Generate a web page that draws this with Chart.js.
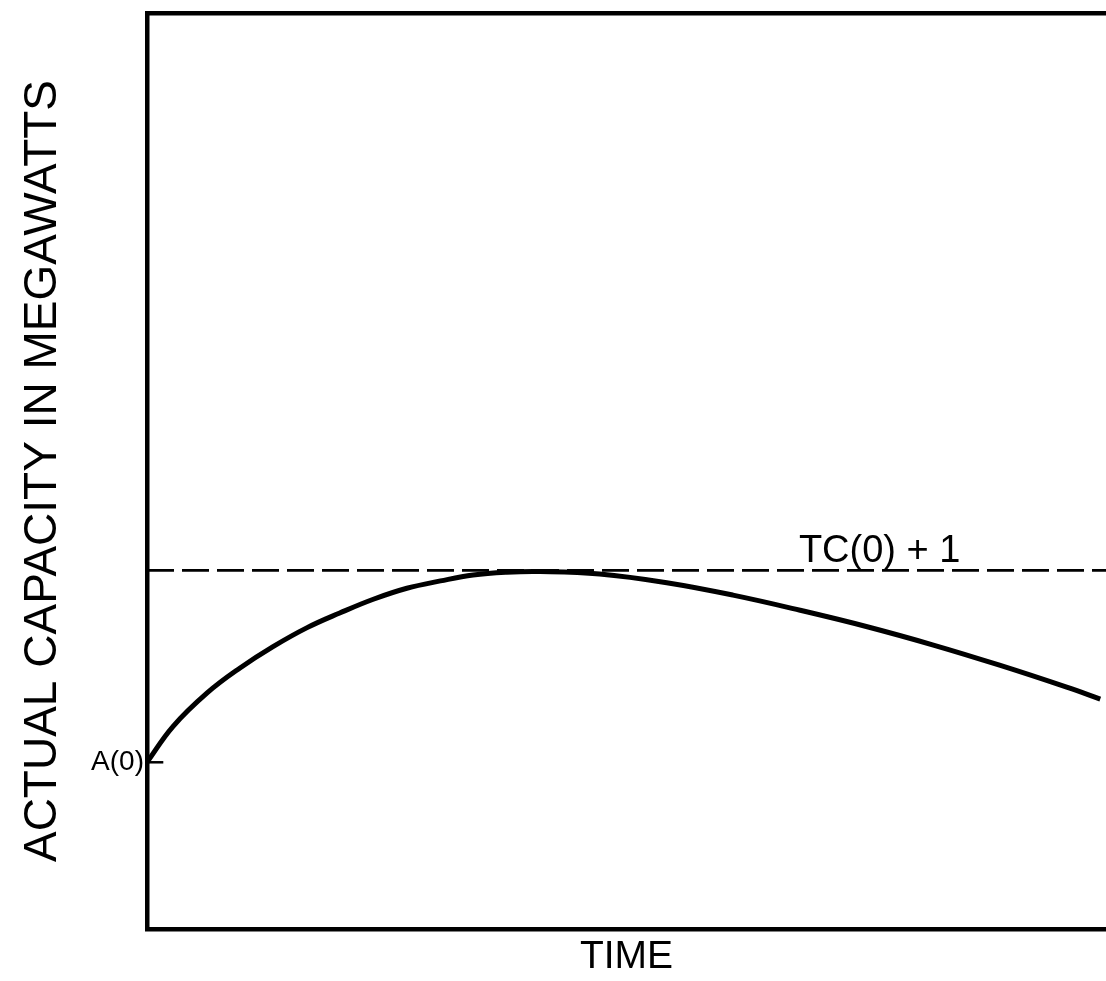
<!DOCTYPE html>
<html>
<head>
<meta charset="utf-8">
<script src="https://cdn.jsdelivr.net/npm/chart.js@4/dist/chart.umd.min.js"></script>
<style>
  html, body { margin: 0; padding: 0; background: #fff; }
  #wrap { width: 1106px; height: 981px; }
</style>
</head>
<body>
<div id="wrap"><canvas id="c" width="1106" height="981"></canvas></div>
<script>
// ---- data (time in % of horizon, capacity in arbitrary units) ----
const timeValues     = [0, 2.7, 6.3, 9.7, 13.1, 16.7, 20.1, 23.6, 27.1, 30.6, 34.0, 37.5, 41.0, 47.2, 54.2, 61.1, 68.1, 75.1, 82.0, 88.9, 95.9, 99.4];
const capacityValues = [18.2, 22.1, 25.8, 28.5, 30.8, 32.9, 34.5, 36.0, 37.2, 38.0, 38.65, 38.95, 39.02, 38.75, 37.8, 36.45, 34.8, 33.0, 31.0, 28.8, 26.4, 25.1];
const A0 = 18.2;            // initial actual capacity A(0)
const TC0plus1 = 39.15;     // target capacity TC(0) + 1
const yTickLabels = ['A(0)'];
const refLineLabel = 'TC(0) + 1';
const xTitle = 'TIME';
const yTitle = 'ACTUAL CAPACITY IN MEGAWATTS';

const curve = timeValues.map((t, i) => ({ x: t, y: capacityValues[i] }));
const refLine = [{ x: 0, y: TC0plus1 }, { x: 100, y: TC0plus1 }];
const a0Tick = [{ x: 0, y: A0 }, { x: 1.7, y: A0 }];

const FONT = "'Liberation Sans', Arial, sans-serif";

const labelPlugin = {
  id: 'refLabel',
  afterDatasetsDraw(chart) {
    const { ctx, scales } = chart;
    const px = scales.x.getPixelForValue(76.4);
    const py = scales.y.getPixelForValue(TC0plus1);
    ctx.save();
    ctx.fillStyle = '#000';
    ctx.font = '38px ' + FONT;
    ctx.textAlign = 'center';
    ctx.textBaseline = 'alphabetic';
    ctx.fillText(refLineLabel, px, py - 8);
    ctx.restore();
  }
};

new Chart(document.getElementById('c'), {
  type: 'line',
  data: {
    datasets: [
      { data: curve, borderColor: '#000', borderWidth: 5, pointRadius: 0, tension: 0.4, fill: false },
      { data: refLine, borderColor: '#000', borderWidth: 2.8, borderDash: [27, 8], pointRadius: 0, fill: false },
      { data: a0Tick, borderColor: '#000', borderWidth: 2.5, pointRadius: 0, fill: false }
    ]
  },
  options: {
    responsive: false,
    animation: false,
    devicePixelRatio: 1,
    layout: { padding: 0 },
    plugins: { legend: { display: false }, tooltip: { enabled: false } },
    scales: {
      x: {
        type: 'linear', min: 0, max: 100, position: 'bottom',
        grid: { display: false, drawTicks: false },
        border: { display: true, color: '#000', width: 4.5 },
        ticks: { display: false },
        title: { display: true, text: xTitle, color: '#000', font: { family: FONT, size: 39 }, padding: { top: 14, bottom: 0 } },
        afterFit(s) { s.height = 52; s.paddingLeft = 0; s.paddingRight = 0; }
      },
      x2: {
        type: 'linear', min: 0, max: 100, position: 'top',
        grid: { display: false, drawTicks: false },
        border: { display: true, color: '#000', width: 4.5 },
        ticks: { display: false },
        afterFit(s) { s.height = 13; s.paddingLeft = 0; s.paddingRight = 0; }
      },
      y: {
        type: 'linear', min: 0, max: 100,
        grid: { display: false, drawTicks: false },
        border: { display: true, color: '#000', width: 4.5 },
        afterBuildTicks(s) { s.ticks = [{ value: A0 }]; },
        ticks: {
          color: '#000', padding: 3,
          font: { family: FONT, size: 28 },
          callback: () => yTickLabels[0]
        },
        title: { display: true, text: yTitle, color: '#000', font: { family: FONT, size: 46 }, padding: { top: 16, bottom: 0 } },
        afterFit(s) { s.width = 147; s.paddingTop = 0; s.paddingBottom = 0; }
      }
    }
  },
  plugins: [labelPlugin]
});
</script>
</body>
</html>
